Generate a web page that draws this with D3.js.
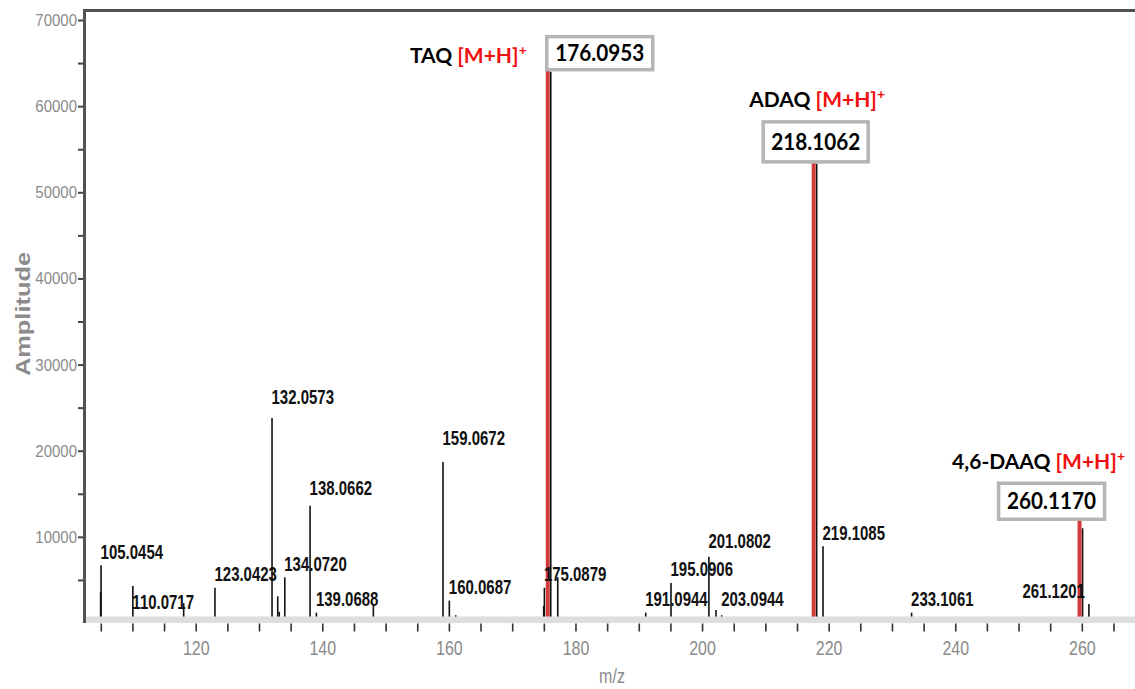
<!DOCTYPE html>
<html>
<head>
<meta charset="utf-8">
<script src="https://cdn.jsdelivr.net/npm/d3@7"></script>
<style>
  html, body { margin: 0; padding: 0; background: #fff; }
  svg { display: block; }
</style>
</head>
<body>
<script>
// ---- Spectrum data: centroid m/z and amplitude (counts) ----
const peakMz  = [104.98, 105.0454, 110.0717, 116.99, 118.10, 123.0423, 132.0573, 132.96, 133.20, 134.0720,
                 138.0662, 139.0688, 148.07, 159.0672, 160.0687, 161.08, 174.98, 175.0879, 176.0953, 177.20,
                 191.0944, 195.0906, 201.0802, 202.20, 203.0944, 218.1062, 219.1085, 233.1061, 260.1170, 261.1201];
const peakAmp = [3600, 6700, 4300, 700, 2300, 4100, 23800, 3100, 1300, 5300,
                 13600, 1200, 2200, 18700, 2600, 900, 2000, 4100, 64000, 5300,
                 1200, 4650, 7700, 1500, 900, 53300, 8900, 1200, 11000, 2200];

// Peaks annotated with their m/z value
const labelledMz = [105.0454, 110.0717, 123.0423, 132.0573, 134.0720, 138.0662, 139.0688, 159.0672, 160.0687,
                    175.0879, 191.0944, 195.0906, 201.0802, 203.0944, 219.1085, 233.1061, 261.1201];

// Protonated molecular ions
const ionMz    = [176.0953, 218.1062, 260.1170];
const ionNames = ["TAQ", "ADAQ", "4,6-DAAQ"];
const ionAdduct = "[M+H]";

// Axis ticks
const yTickValues  = [10000, 20000, 30000, 40000, 50000, 60000, 70000];
const yMinorValues = [5000, 15000, 25000, 35000, 45000, 55000, 65000];
const xTickLabels  = [120, 140, 160, 180, 200, 220, 240, 260];
const xTickValues  = [105, 110, 115, 120, 125, 130, 135, 140, 145, 150, 155, 160, 165, 170, 175, 180, 185,
                      190, 195, 200, 205, 210, 215, 220, 225, 230, 235, 240, 245, 250, 255, 260, 265];

// ---- Layout ----
const W = 1135, H = 689;
const plotLeft = 84, plotTop = 10, baseY = 623;
const chartFont = "'Liberation Sans', Arial, sans-serif";
const calloutFont = "Lato, 'Open Sans', sans-serif";
const tickGray = "#8a8a8a";

// label baseline offset from the peak top (px); negative = above
const labelShift = new Map([[110.0717, 23], [132.0573, -14], [138.0662, -11], [159.0672, -17],
                            [201.0802, -8.5], [203.0944, -9.7]]);
// labels drawn to the left of their peak
const labelLeft = new Set([261.1201]);

// callout boxes: offset of box centre from peak, size, gap above peak, name placement
const calloutLayout = [
  { dx: 49,  w: 106, h: 33, lift: 2, name: "left" },
  { dx: -1,  w: 105, h: 40, lift: 2, name: "above", nameDx: 1.5 },
  { dx: -31, w: 106, h: 36, lift: 9, name: "above", nameDx: -13 }
];

const svg = d3.select("body").append("svg").attr("width", W).attr("height", H);

const x = d3.scaleLinear().domain([102.35, 268.4]).range([plotLeft, W]);
const y = d3.scaleLinear().domain([0, 70000]).range([baseY, 20]);

const peaks = peakMz.map((mz, i) => ({ mz, amp: peakAmp[i] }));
const ampOf = mz => peaks.find(p => p.mz === mz).amp;

// ---- Y axis ----
const gyMinor = svg.append("g").attr("transform", `translate(${plotLeft},0)`)
  .call(d3.axisLeft(y).tickValues(yMinorValues).tickSize(6).tickFormat(""));
gyMinor.select(".domain").remove();
gyMinor.selectAll(".tick line").attr("stroke", "#444").attr("stroke-width", 2);

const gy = svg.append("g").attr("transform", `translate(${plotLeft},0)`)
  .call(d3.axisLeft(y).tickValues(yTickValues).tickSize(6).tickFormat(d3.format("d")));
gy.select(".domain").remove();
gy.selectAll(".tick line").attr("stroke", "#444").attr("stroke-width", 2);
gy.selectAll(".tick text")
  .attr("x", null).attr("dy", null).attr("y", null)
  .attr("transform", "translate(-7,5.5) scale(1,1.12)")
  .attr("fill", tickGray)
  .style("font-family", chartFont).style("font-size", "15px");

// ---- Peaks ----
svg.append("g").selectAll("line").data(peaks).join("line")
  .attr("x1", d => x(d.mz)).attr("x2", d => x(d.mz))
  .attr("y1", y(0)).attr("y2", d => y(d.amp))
  .attr("stroke", "#111").attr("stroke-width", 1.6);

// ---- Molecular ion highlights and callouts ----
const callouts = ionMz.map((mz, i) => {
  const L = calloutLayout[i];
  const px = x(mz);
  const bottom = y(ampOf(mz)) - L.lift;
  return { mz, name: ionNames[i], px, cx: px + L.dx, bottom, top: bottom - L.h, L };
});

svg.append("g").selectAll("rect").data(callouts).join("rect")
  .attr("x", d => d.px - 5).attr("width", 4)
  .attr("y", d => d.bottom).attr("height", d => y(0) - d.bottom)
  .attr("fill", "#d13b3b");

// ---- Baseline band ----
svg.append("rect").attr("x", plotLeft).attr("y", 616.5).attr("width", W - plotLeft).attr("height", 6.5)
  .attr("fill", "#dedede");

// ---- X axis ----
const gx = svg.append("g").attr("transform", `translate(0,623.5)`)
  .call(d3.axisBottom(x).tickValues(xTickValues).tickSize(8)
    .tickFormat(d => xTickLabels.includes(d) ? d : ""));
gx.select(".domain").remove();
gx.selectAll(".tick line").attr("stroke", "#333").attr("stroke-width", 1.6);
gx.selectAll(".tick text")
  .attr("y", null).attr("dy", null)
  .attr("transform", "translate(0,31) scale(1,1.3)")
  .attr("fill", tickGray)
  .style("font-family", chartFont).style("font-size", "16px");

// ---- Frame ----
svg.append("line").attr("x1", plotLeft + 0.5).attr("x2", plotLeft + 0.5)
  .attr("y1", plotTop - 1).attr("y2", baseY).attr("stroke", "#525252").attr("stroke-width", 3);
svg.append("line").attr("x1", plotLeft - 1).attr("x2", W)
  .attr("y1", plotTop + 0.5).attr("y2", plotTop + 0.5).attr("stroke", "#525252").attr("stroke-width", 3);

// ---- Peak labels ----
svg.append("g").selectAll("text").data(labelledMz).join("text")
  .attr("transform", mz => {
    const left = labelLeft.has(mz);
    const lx = x(mz) + (left ? -4 : -0.5);
    const ly = y(ampOf(mz)) + (labelShift.has(mz) ? labelShift.get(mz) : -6.5);
    return `translate(${lx},${ly}) scale(1,1.33)`;
  })
  .attr("text-anchor", mz => labelLeft.has(mz) ? "end" : "start")
  .attr("fill", "#111")
  .style("font-family", chartFont).style("font-size", "15px").style("font-weight", "bold")
  .text(mz => mz.toFixed(4));

// ---- Callout boxes ----
const cg = svg.append("g").selectAll("g").data(callouts).join("g");
cg.append("rect")
  .attr("x", d => d.cx - d.L.w / 2).attr("y", d => d.top)
  .attr("width", d => d.L.w).attr("height", d => d.L.h)
  .attr("fill", "#fff").attr("stroke", "#b5b5b5").attr("stroke-width", 3.5);
cg.append("text")
  .attr("transform", d => `translate(${d.cx},${(d.top + d.bottom) / 2 + 8}) scale(0.9,1)`)
  .attr("text-anchor", "middle").attr("fill", "#000")
  .style("font-family", calloutFont).style("font-size", "23px").style("font-weight", "bold")
  .text(d => d.mz.toFixed(4));

const names = cg.append("text")
  .attr("x", d => d.L.name === "left" ? d.cx - d.L.w / 2 - 20 : d.cx + d.L.nameDx)
  .attr("y", d => d.L.name === "left" ? (d.top + d.bottom) / 2 + 10 : d.top - 14.5)
  .attr("text-anchor", d => d.L.name === "left" ? "end" : "middle")
  .style("font-family", calloutFont).style("font-size", "21px").style("font-weight", "bold");
names.append("tspan").attr("fill", "#000").text(d => d.name + " ");
names.append("tspan").attr("fill", "#f01010").text(ionAdduct);
names.append("tspan").attr("fill", "#f01010").attr("dy", -8).style("font-size", "14px").text("+");

// ---- Axis titles ----
svg.append("text")
  .attr("transform", "translate(612,683) scale(1,1.3)")
  .attr("text-anchor", "middle").attr("fill", tickGray)
  .style("font-family", chartFont).style("font-size", "16px")
  .text("m/z");

svg.append("text")
  .attr("transform", "translate(30,314) rotate(-90) scale(1.27,1)")
  .attr("text-anchor", "middle").attr("fill", "#8c8c8c")
  .style("font-family", chartFont).style("font-size", "20px").style("font-weight", "bold")
  .text("Amplitude");
</script>
</body>
</html>
